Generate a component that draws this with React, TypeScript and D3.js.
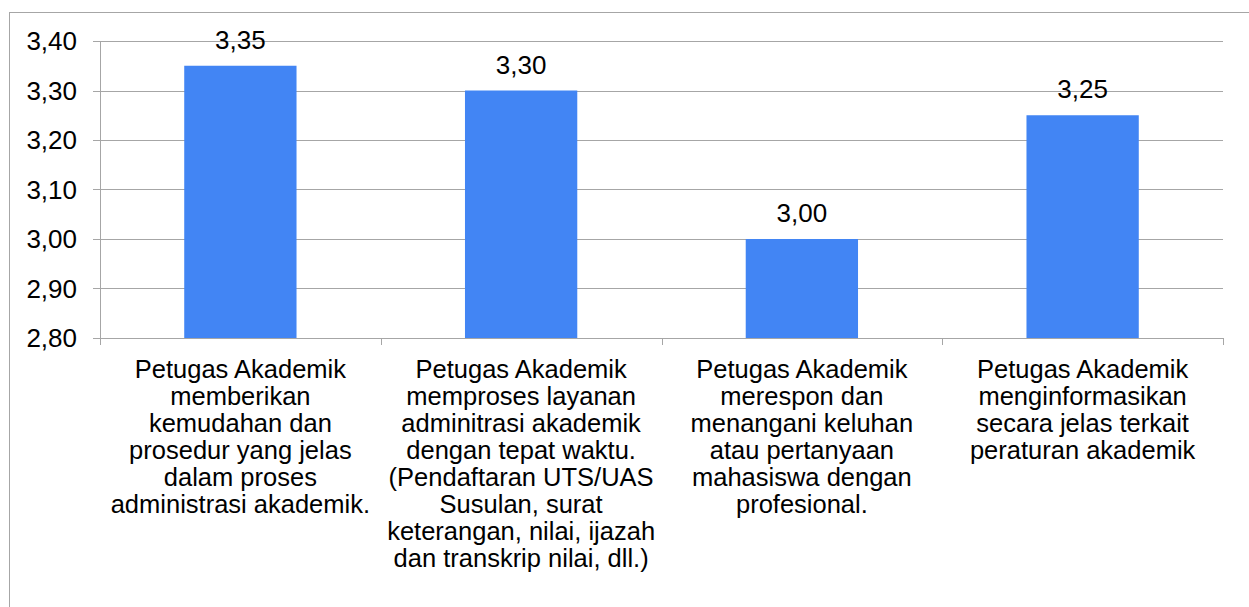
import React, { useEffect, useRef } from 'react';
import * as d3 from 'd3';

const categories = ['c1', 'c2', 'c3', 'c4'];

const categoryLines: string[][] = [
  ['Petugas Akademik', 'memberikan', 'kemudahan dan', 'prosedur yang jelas', 'dalam proses', 'administrasi akademik.'],
  ['Petugas Akademik', 'memproses layanan', 'adminitrasi akademik', 'dengan tepat waktu.', '(Pendaftaran UTS/UAS', 'Susulan, surat', 'keterangan, nilai, ijazah', 'dan transkrip nilai, dll.)'],
  ['Petugas Akademik', 'merespon dan', 'menangani keluhan', 'atau pertanyaan', 'mahasiswa dengan', 'profesional.'],
  ['Petugas Akademik', 'menginformasikan', 'secara jelas terkait', 'peraturan akademik']
];

const values = [3.35, 3.3, 3.0, 3.25];

const yTicks = [2.8, 2.9, 3.0, 3.1, 3.2, 3.3, 3.4];

const App: React.FC = () => {
  const svgRef = useRef<SVGSVGElement>(null);

  useEffect(() => {
    if (!svgRef.current) return;
    const width = 1249;
    const height = 607;
    const left = 100;
    const right = 1223;
    const top = 41;
    const bottom = 338;
    const font = "'Liberation Sans', Arial, sans-serif";
    const gray = '#a6a6a6';
    const fmt = (v: number) => v.toFixed(2).replace('.', ',');

    const svg = d3.select(svgRef.current);
    svg.selectAll('*').remove();
    svg.attr('width', width).attr('height', height);

    svg.append('rect')
      .attr('width', width)
      .attr('height', height)
      .attr('fill', '#fff');

    // outer chart border (runs off the picture on the right and bottom)
    svg.append('rect')
      .attr('x', 9.5)
      .attr('y', 12.5)
      .attr('width', width + 20)
      .attr('height', height + 20)
      .attr('fill', 'none')
      .attr('stroke', gray)
      .attr('stroke-width', 1);

    const x = d3.scaleBand<string>()
      .domain(categories)
      .range([left, right])
      .padding(0);

    const y = d3.scaleLinear()
      .domain([2.8, 3.4])
      .range([bottom, top]);

    // gridlines
    svg.append('g')
      .selectAll('line')
      .data(yTicks)
      .enter()
      .append('line')
      .attr('x1', left - 7)
      .attr('x2', right)
      .attr('y1', d => Math.round(y(d)) + 0.5)
      .attr('y2', d => Math.round(y(d)) + 0.5)
      .attr('stroke', gray)
      .attr('stroke-width', 1);

    // y tick labels
    svg.append('g')
      .selectAll('text')
      .data(yTicks)
      .enter()
      .append('text')
      .attr('x', 77)
      .attr('y', d => y(d))
      .attr('dy', '0.35em')
      .attr('text-anchor', 'end')
      .attr('font-family', font)
      .attr('font-size', '26px')
      .attr('fill', '#000')
      .text(d => fmt(d));

    // bars
    const barW = x.bandwidth() * 0.4;
    svg.append('g')
      .selectAll('rect')
      .data(values)
      .enter()
      .append('rect')
      .attr('x', (d, i) => (x(categories[i]) as number) + (x.bandwidth() - barW) / 2)
      .attr('y', d => y(d))
      .attr('width', barW)
      .attr('height', d => bottom - y(d))
      .attr('fill', '#4285f4');

    // y axis line
    svg.append('line')
      .attr('x1', left + 0.5)
      .attr('x2', left + 0.5)
      .attr('y1', top)
      .attr('y2', bottom)
      .attr('stroke', gray);

    // x axis line and category ticks
    svg.append('line')
      .attr('x1', left)
      .attr('x2', right)
      .attr('y1', bottom + 0.5)
      .attr('y2', bottom + 0.5)
      .attr('stroke', gray);

    const boundaries = categories.map(c => x(c) as number).concat([right]);
    svg.append('g')
      .selectAll('line')
      .data(boundaries)
      .enter()
      .append('line')
      .attr('x1', d => Math.round(d) + 0.5)
      .attr('x2', d => Math.round(d) + 0.5)
      .attr('y1', bottom)
      .attr('y2', bottom + 7)
      .attr('stroke', gray);

    // value labels
    svg.append('g')
      .selectAll('text')
      .data(values)
      .enter()
      .append('text')
      .attr('x', (d, i) => (x(categories[i]) as number) + x.bandwidth() / 2)
      .attr('y', d => y(d) - 17)
      .attr('text-anchor', 'middle')
      .attr('font-family', font)
      .attr('font-size', '26px')
      .attr('fill', '#000')
      .text(d => fmt(d));

    // category labels
    const lineH = 27;
    categoryLines.forEach((lines, i) => {
      const cx = (x(categories[i]) as number) + x.bandwidth() / 2;
      const t = svg.append('text')
        .attr('text-anchor', 'middle')
        .attr('font-family', font)
        .attr('font-size', '25.5px')
        .attr('fill', '#000');
      lines.forEach((ln, j) => {
        t.append('tspan')
          .attr('x', cx)
          .attr('y', 378 + j * lineH)
          .text(ln);
      });
    });
  }, []);

  return (
    <div style={{ position: 'absolute', left: 0, top: 0 }}>
      <svg ref={svgRef} style={{ display: 'block' }}></svg>
    </div>
  );
};

export default App;
